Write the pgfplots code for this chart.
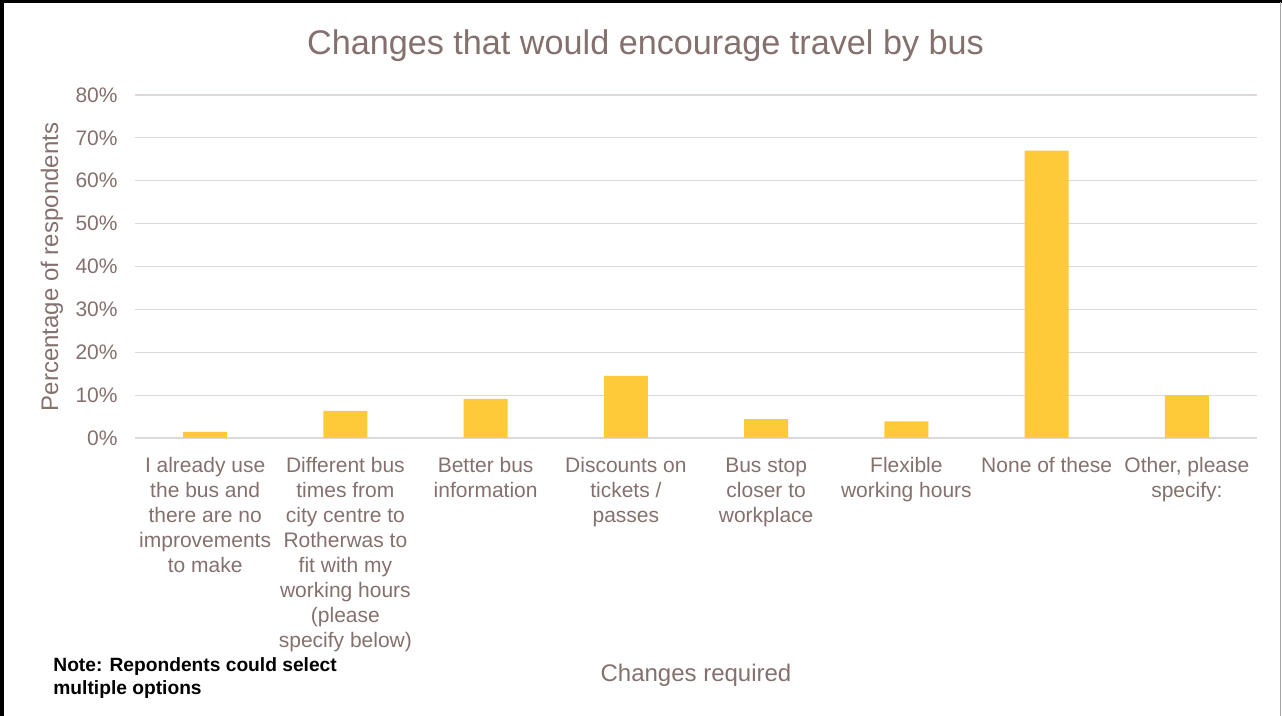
\documentclass[border=0pt]{standalone}
\usepackage{pgfplots}
\pgfplotsset{compat=1.18}
\usepackage{fontspec}
\setmainfont{Liberation Sans}
\definecolor{txt}{RGB}{132,112,108}
\definecolor{barc}{RGB}{255,202,58}
\definecolor{gridc}{RGB}{222,217,217}
\begin{document}
\begin{tikzpicture}
\path[use as bounding box] (0,0) rectangle (641pt,358pt);
\begin{axis}[
  at={(67.5pt,139pt)}, anchor=south west,
  width=561pt, height=171.5pt, scale only axis,
  xmin=-0.5, xmax=7.5, ymin=0, ymax=80,
  ytick={0,10,...,80},
  yticklabel={\pgfmathprintnumber{\tick}\%},
  xtick={0,...,7},
  xticklabels={
    {\strut I already use\\the bus and\\there are no\\improvements\\to make},
    {\strut Different bus\\times from\\city centre to\\Rotherwas to\\fit with my\\working hours\\(please\\specify below)},
    {\strut Better bus\\information},
    {\strut Discounts on\\tickets /\\passes},
    {\strut Bus stop\\closer to\\workplace},
    {\strut Flexible\\working hours},
    {\strut None of these},
    {\strut Other, please\\specify:}},
  axis line style={draw=none},
  major tick length=0pt,
  ymajorgrids, grid style={gridc, line width=0.6pt},
  /pgf/number format/assume math mode=true,
  tick label style={text=txt, font=\fontsize{10.5}{12.5}\selectfont},
  xticklabel style={align=center, anchor=north, inner sep=0pt, yshift=-8.4pt},
  yticklabel style={anchor=east, inner sep=0pt, xshift=-8.5pt},
  ybar, bar width=22pt,
  clip=false,
]
\addplot[fill=barc, draw=none, bar shift=0pt] table {
x y
0 1.4
1 6.3
2 9.1
3 14.5
4 4.4
5 3.9
6 67.0
7 10.0
};
\end{axis}
\node[text=txt, font=\fontsize{17.1}{20}\selectfont] at (322.75pt,335pt) {Changes that would encourage travel by bus};
\node[text=txt, font=\fontsize{12}{14}\selectfont, rotate=90] at (26pt,224.5pt) {Percentage of respondents};
\node[text=txt, font=\fontsize{12}{14}\selectfont] at (348pt,20.5pt) {Changes required};
\node[anchor=north west, align=left, inner sep=0pt, font=\fontsize{9.6}{11.5}\selectfont\bfseries] at (26.5pt,29.5pt) {Note: Repondents could select\\multiple options};
\draw[black, line width=2pt] (1pt,0) -- (1pt,358pt);
\draw[black, line width=1.5pt] (0,357.25pt) -- (641pt,357.25pt);
\draw[gray!70, line width=0.6pt] (640.3pt,0) -- (640.3pt,357pt);
\end{tikzpicture}
\end{document}
